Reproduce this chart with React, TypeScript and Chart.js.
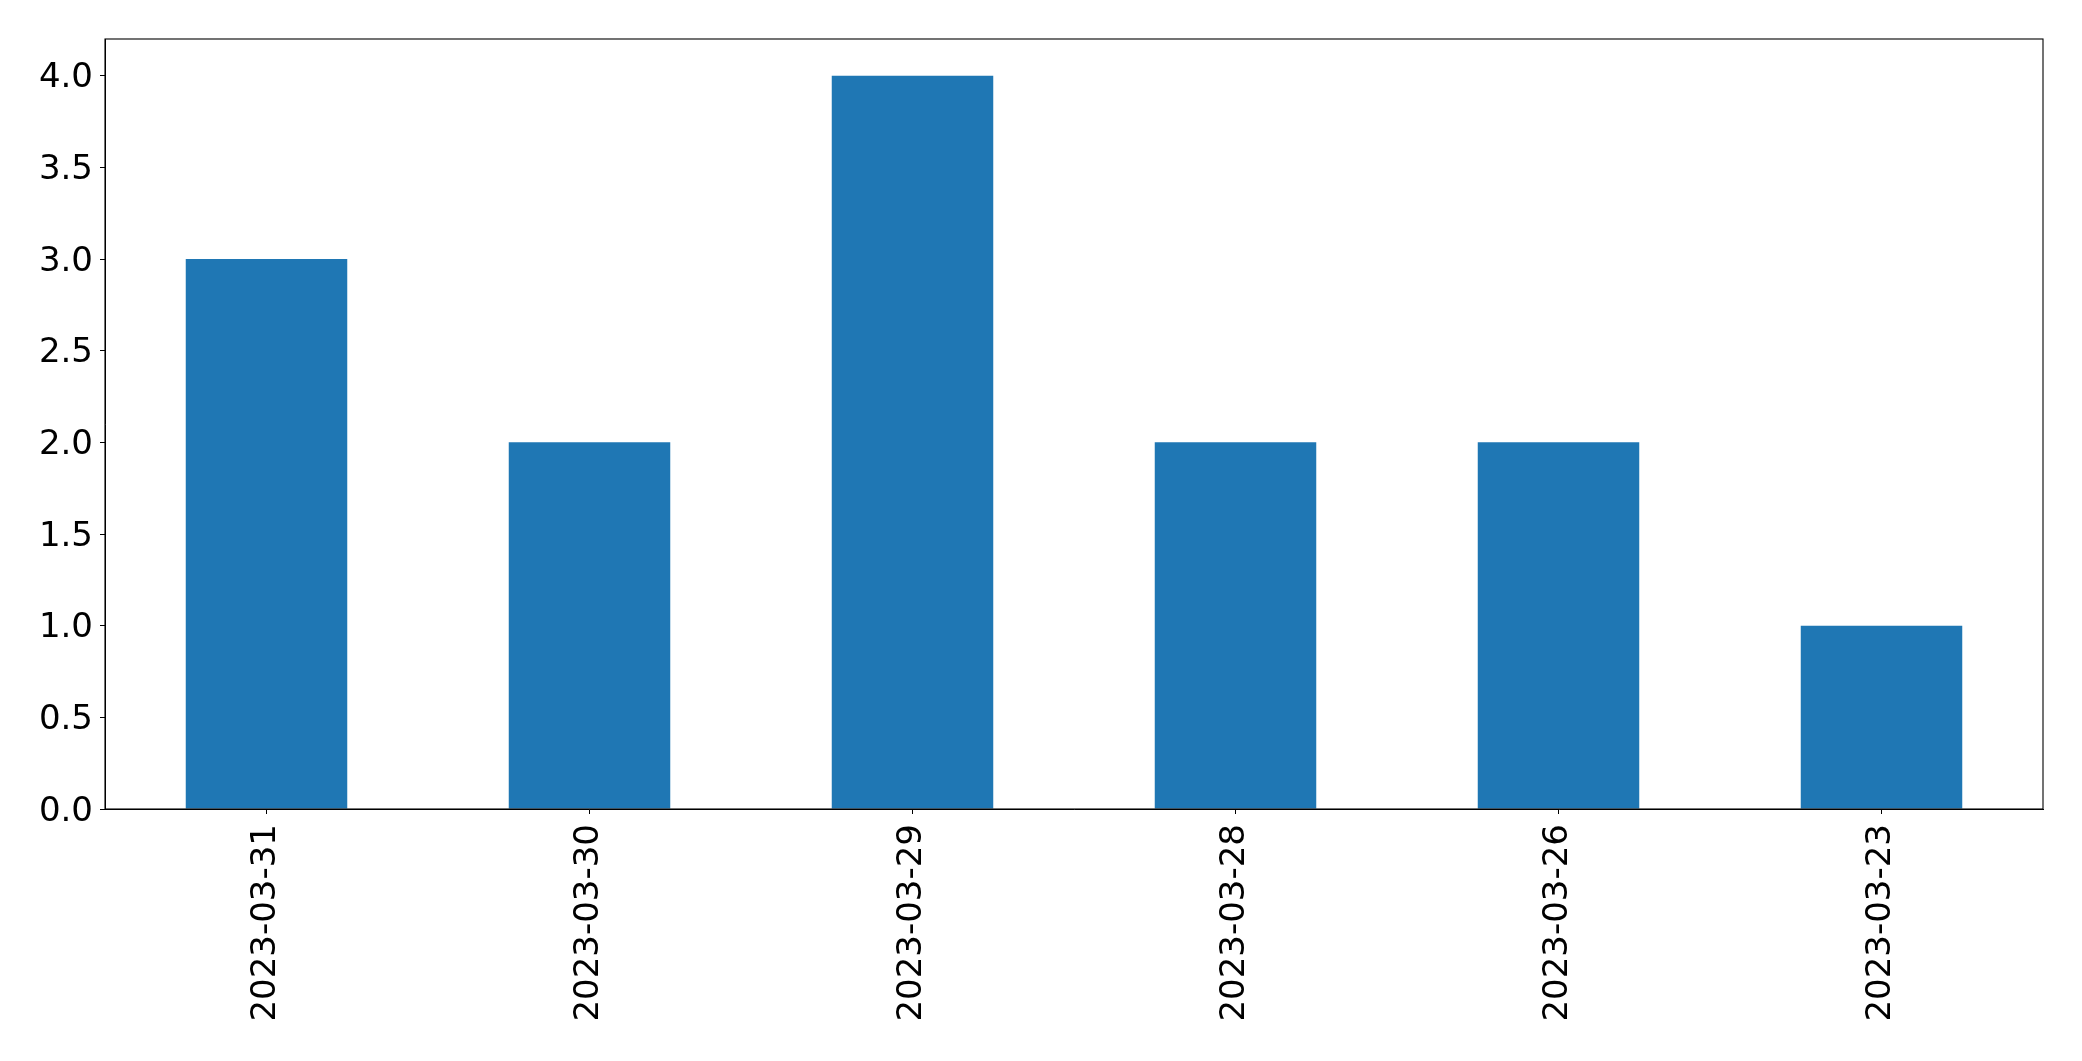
import React, { useEffect, useRef } from "react";
import { Chart, registerables } from "chart.js";

Chart.register(...registerables);

const categories = ["2023-03-31", "2023-03-30", "2023-03-29", "2023-03-28", "2023-03-26", "2023-03-23"];
const values = [3, 2, 4, 2, 2, 1];
const yTicks = [0, 0.5, 1, 1.5, 2, 2.5, 3, 3.5, 4];
const yMin = 0;
const yMax = 4.2;

const W = 2082;
const H = 1061;
const PLOT_LEFT = 105;
const PLOT_RIGHT = 2043;
const PLOT_TOP = 39;
const PLOT_BOTTOM = 809;

const frame = {
  id: "frame",
  afterDatasetsDraw(chart: any) {
    const { ctx, chartArea } = chart;
    ctx.save();
    ctx.strokeStyle = "#000";
    ctx.lineWidth = 1.1;
    ctx.strokeRect(chartArea.left, chartArea.top, chartArea.right - chartArea.left, chartArea.bottom - chartArea.top);
    ctx.restore();
  },
};

export default function App() {
  const ref = useRef<HTMLCanvasElement | null>(null);
  useEffect(() => {
    document.body.style.margin = "0";
    const font = { family: "DejaVu Sans", size: 34 };
    const chart = new Chart(ref.current as HTMLCanvasElement, {
      type: "bar",
      data: {
        labels: categories,
        datasets: [
          {
            data: values,
            backgroundColor: "#1f77b4",
            borderWidth: 0,
            categoryPercentage: 1,
            barPercentage: 0.5,
          },
        ],
      },
      options: {
        animation: false,
        responsive: false,
        maintainAspectRatio: false,
        devicePixelRatio: 1,
        layout: { padding: { left: 0, top: PLOT_TOP, right: W - PLOT_RIGHT, bottom: 0 } },
        plugins: { legend: { display: false }, tooltip: { enabled: false }, title: { display: false } },
        scales: {
          x: {
            type: "category",
            offset: true,
            grid: { display: true, drawOnChartArea: false, drawTicks: true, tickLength: 5, color: "#000", offset: false },
            border: { display: true, color: "#000", width: 1 },
            ticks: { font, color: "#000", minRotation: 90, maxRotation: 90, padding: 10, autoSkip: false },
            afterFit(scale: any) {
              scale.height = H - PLOT_BOTTOM;
            },
          },
          y: {
            type: "linear",
            min: yMin,
            max: yMax,
            grid: { display: true, drawOnChartArea: false, drawTicks: true, tickLength: 5, color: "#000" },
            border: { display: true, color: "#000", width: 1 },
            ticks: {
              font,
              color: "#000",
              padding: 7,
              labelOffset: 3,
              callback: (v: any) => Number(v).toFixed(1),
            },
            afterBuildTicks(scale: any) {
              scale.ticks = yTicks.map((v) => ({ value: v }));
            },
            afterFit(scale: any) {
              scale.width = PLOT_LEFT;
            },
          },
        },
      },
      plugins: [frame],
    });
    return () => chart.destroy();
  }, []);
  return (
    <div style={{ position: "absolute", left: 0, top: 0, width: W, height: H, background: "#fff" }}>
      <canvas ref={ref} width={W} height={H} style={{ width: W, height: H, display: "block" }} />
    </div>
  );
}
